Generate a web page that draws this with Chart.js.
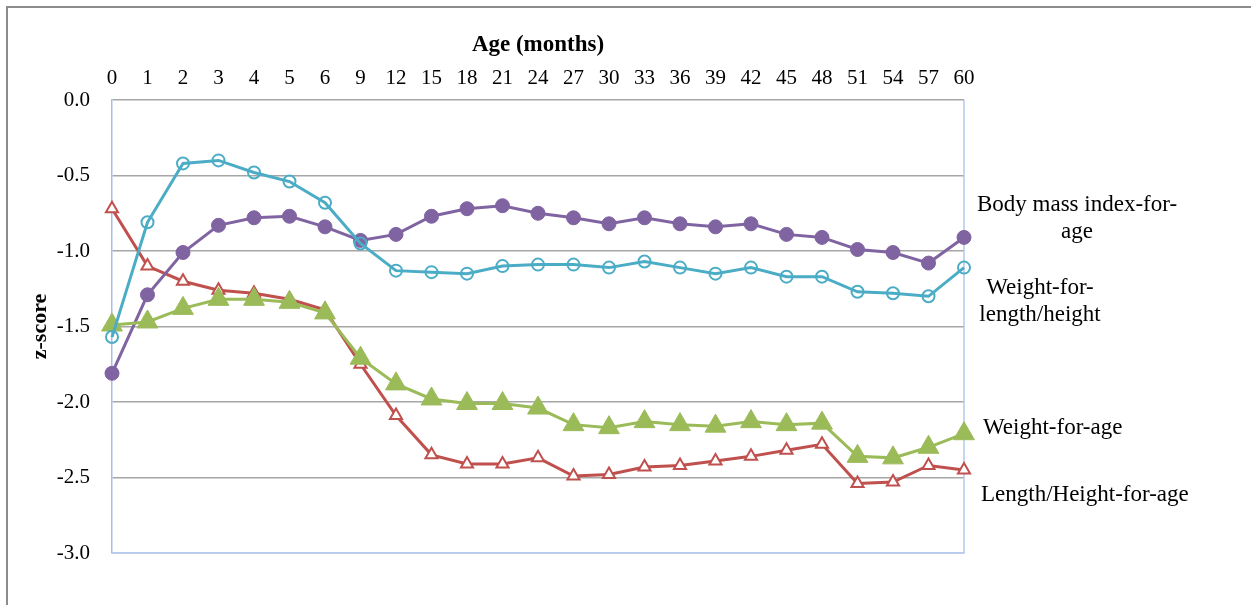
<!DOCTYPE html>
<html>
<head>
<meta charset="utf-8">
<script src="https://cdn.jsdelivr.net/npm/chart.js@4.4.1/dist/chart.umd.min.js"></script>
<style>
  html, body { margin: 0; padding: 0; background: #ffffff; }
  #wrap { position: relative; width: 1251px; height: 605px; }
</style>
</head>
<body>
<div id="wrap"><canvas id="c" width="1251" height="605"></canvas></div>
<script>
const ageMonths = ['0','1','2','3','4','5','6','9','12','15','18','21','24','27','30','33','36','39','42','45','48','51','54','57','60'];
const bmiForAge = [-1.81,-1.29,-1.01,-0.83,-0.78,-0.77,-0.84,-0.93,-0.89,-0.77,-0.72,-0.70,-0.75,-0.78,-0.82,-0.78,-0.82,-0.84,-0.82,-0.89,-0.91,-0.99,-1.01,-1.08,-0.91];
const weightForLength = [-1.57,-0.81,-0.42,-0.40,-0.48,-0.54,-0.68,-0.95,-1.13,-1.14,-1.15,-1.10,-1.09,-1.09,-1.11,-1.07,-1.11,-1.15,-1.11,-1.17,-1.17,-1.27,-1.28,-1.30,-1.11];
const weightForAge = [-1.49,-1.47,-1.38,-1.32,-1.32,-1.34,-1.41,-1.71,-1.88,-1.98,-2.01,-2.01,-2.04,-2.15,-2.17,-2.13,-2.15,-2.16,-2.13,-2.15,-2.14,-2.36,-2.37,-2.30,-2.21];
const lengthForAge = [-0.72,-1.10,-1.20,-1.26,-1.28,-1.32,-1.39,-1.75,-2.09,-2.35,-2.41,-2.41,-2.37,-2.49,-2.48,-2.43,-2.42,-2.39,-2.36,-2.32,-2.28,-2.54,-2.53,-2.42,-2.45];
const seriesNames = ['Body mass index-for-age','Weight-for-length/height','Weight-for-age','Length/Height-for-age'];
const yTicks = [0,-0.5,-1,-1.5,-2,-2.5,-3];

const SERIF = "'Liberation Serif', 'Times New Roman', serif";

const framePlugin = {
  id: 'frame',
  beforeDraw(chart) {
    const ctx = chart.ctx;
    ctx.save();
    ctx.fillStyle = '#ffffff';
    ctx.fillRect(0, 0, chart.width, chart.height);
    ctx.strokeStyle = '#8c8c8c';
    ctx.lineWidth = 2;
    ctx.beginPath();
    ctx.moveTo(7, chart.height);
    ctx.lineTo(7, 7);
    ctx.lineTo(chart.width, 7);
    ctx.stroke();
    ctx.restore();
  },
  beforeDatasetsDraw(chart) {
    const a = chart.chartArea;
    const ctx = chart.ctx;
    ctx.save();
    ctx.strokeStyle = '#b4c7ec';
    ctx.lineWidth = 1.5;
    ctx.beginPath();
    ctx.moveTo(a.right, a.top);
    ctx.lineTo(a.right, a.bottom);
    ctx.lineTo(a.left, a.bottom);
    ctx.stroke();
    ctx.restore();
  },
  afterDraw(chart) {
    const ctx = chart.ctx;
    ctx.save();
    ctx.fillStyle = '#000000';
    ctx.font = '23px ' + SERIF;
    ctx.textBaseline = 'middle';
    ctx.textAlign = 'center';
    ctx.fillText('Body mass index-for-', 1077, 205);
    ctx.fillText('age', 1077, 232);
    ctx.fillText('Weight-for-', 1040, 288);
    ctx.fillText('length/height', 1040, 315);
    ctx.textAlign = 'left';
    ctx.fillText('Weight-for-age', 983, 428);
    ctx.fillText('Length/Height-for-age', 981, 495);
    ctx.restore();
  }
};

new Chart(document.getElementById('c'), {
  type: 'line',
  data: {
    labels: ageMonths,
    datasets: [
      {
        label: seriesNames[1], data: weightForLength, order: 1,
        borderColor: '#4bacc6', borderWidth: 3, backgroundColor: '#ffffff',
        pointStyle: 'circle', pointRadius: 6, pointBorderWidth: 2,
        pointBorderColor: '#4bacc6', pointBackgroundColor: 'rgba(255,255,255,0)', tension: 0
      },
      {
        label: seriesNames[2], data: weightForAge, order: 2,
        borderColor: '#9bbb59', borderWidth: 3, backgroundColor: '#9bbb59',
        pointStyle: 'triangle', pointRadius: 12, pointBorderWidth: 1,
        pointBorderColor: '#9bbb59', pointBackgroundColor: '#9bbb59', tension: 0
      },
      {
        label: seriesNames[0], data: bmiForAge, order: 3,
        borderColor: '#8064a2', borderWidth: 3, backgroundColor: '#8064a2',
        pointStyle: 'circle', pointRadius: 7, pointBorderWidth: 1,
        pointBorderColor: '#8064a2', pointBackgroundColor: '#8064a2', tension: 0
      },
      {
        label: seriesNames[3], data: lengthForAge, order: 4,
        borderColor: '#c0504d', borderWidth: 3, backgroundColor: '#ffffff',
        pointStyle: 'triangle', pointRadius: 7, pointBorderWidth: 2,
        pointBorderColor: '#c0504d', pointBackgroundColor: '#ffffff', tension: 0
      }
    ]
  },
  options: {
    responsive: false,
    animation: false,
    layout: { padding: { left: 0, top: 0, right: 287, bottom: 52 } },
    plugins: { legend: { display: false }, tooltip: { enabled: false } },
    scales: {
      x: {
        type: 'category',
        position: 'top',
        offset: false,
        grid: { display: false, drawTicks: false },
        border: { display: false },
        ticks: { color: '#000', font: { family: SERIF, size: 21 }, padding: 9, maxRotation: 0, autoSkip: false },
        title: { display: true, text: 'Age (months)', color: '#000', font: { family: SERIF, size: 23, weight: 'bold' }, padding: { top: 31, bottom: 0 } },
        afterFit(scale) { scale.height = 100; }
      },
      y: {
        min: -3, max: 0,
        afterBuildTicks(scale) { scale.ticks = yTicks.map(v => ({ value: v })); },
        grid: {
          drawTicks: false,
          color(ctx) { return ctx.tick && ctx.tick.value === -3 ? '#c5d3f0' : '#a6a6a6'; },
          lineWidth: 1.5
        },
        border: { display: true, color: '#a9bde8', width: 1.5 },
        ticks: { color: '#000', font: { family: SERIF, size: 21 }, padding: 22, callback(v) { return Number(v).toFixed(1); } },
        title: { display: true, text: 'z-score', color: '#000', font: { family: SERIF, size: 22, weight: 'bold' }, padding: { top: 27, bottom: 0 } },
        afterFit(scale) { scale.width = 112; }
      }
    }
  },
  plugins: [framePlugin]
});
</script>
</body>
</html>
